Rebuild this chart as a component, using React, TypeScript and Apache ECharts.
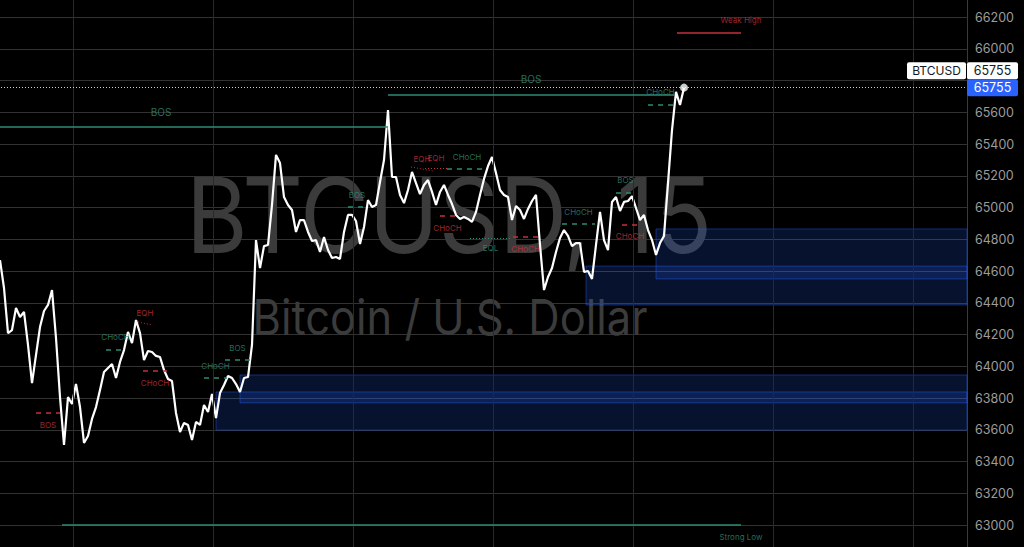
import React, { useEffect, useRef } from "react";
import * as echarts from "echarts";

const symbol = "BTCUSD";
const description = "Bitcoin / U.S. Dollar";
const resolution = "15";

// 15-minute closes, oldest first
const closes: number[] = [
  64669, 64493, 64209, 64228, 64367, 64310, 64342, 64134, 63894, 64071,
  64247, 64348, 64386, 64480, 64178, 63806, 63504, 63806, 63762, 63888,
  63743, 63517, 63561, 63668, 63743, 63850, 63964, 63989, 64014, 63926,
  64027, 64102, 64216, 64146, 64291, 64209, 64039, 64096, 64090, 64065,
  64058, 63976, 63920, 63907, 63706, 63586, 63643, 63630, 63535, 63649,
  63630, 63756, 63712, 63825, 63674, 63831, 63882, 63939, 63926, 63888,
  63838, 63926, 63932, 64134, 64795, 64619, 64757, 64764, 65016, 65331,
  65280, 65066, 65016, 64984, 64846, 64921, 64921, 64846, 64789, 64795,
  64720, 64814, 64732, 64682, 64688, 64676, 64846, 64953, 64953, 64915,
  64770, 64877, 65047, 65003, 65016, 65161, 65299, 65614, 65192, 65192,
  65079, 65028, 65110, 65224, 65154, 65085, 65142, 65173, 65098, 65016,
  65098, 65142, 65079, 65022, 64953, 64928, 64940, 64928, 64909, 64972,
  65079, 65180, 65261, 65318, 65217, 65110, 65079, 65066, 64921, 65009,
  64984, 64928, 64991, 65041, 65079, 64764, 64480, 64562, 64619, 64720,
  64808, 64858, 64821, 64757, 64776, 64776, 64594, 64600, 64550, 64764,
  64972, 64795, 64732, 65035, 65066, 64978, 65035, 65041, 65072, 64997,
  64921, 64953, 64858, 64795, 64701, 64776, 64821, 65154, 65488, 65728,
  65646, 65755,
];

// bar positions of the vertical time divisions
const timeDivisions = [18.25, 53.25, 88.25, 123.25, 158.25, 193.25, 228.25];

// price scale
const priceMin = 62800;
const priceMax = 66400;
const priceStep = 200;
const firstBar = -20;
const lastBar = 241.75;

// swing structure breaks
const swingBreaks = [
  { from: -16.5, to: 97, price: 65507, text: "BOS", bias: "bull" },
  { from: 97, to: 168.5, price: 65712, text: "BOS", bias: "bull" },
];

// internal structure breaks
const internalBreaks = [
  { from: 9, to: 15, price: 63707, text: "BOS", bias: "bear" },
  { from: 26.5, to: 31.25, price: 64107, text: "CHoCH", bias: "bull" },
  { from: 35.75, to: 41.75, price: 63972, text: "CHoCH", bias: "bear" },
  { from: 51, to: 56.75, price: 63928, text: "CHoCH", bias: "bull" },
  { from: 56.25, to: 62.5, price: 64041, text: "BOS", bias: "bull" },
  { from: 87, to: 91.5, price: 65005, text: "BOS", bias: "bull" },
  { from: 110, to: 113.75, price: 64946, text: "CHoCH", bias: "bear" },
  { from: 111.75, to: 121.75, price: 65243, text: "CHoCH", bias: "bull" },
  { from: 128.25, to: 134.5, price: 64816, text: "CHoCH", bias: "bear" },
  { from: 140.5, to: 148.75, price: 64896, text: "CHoCH", bias: "bull" },
  { from: 154, to: 158.75, price: 65096, text: "BOS", bias: "bull" },
  { from: 155.5, to: 159.5, price: 64894, text: "CHoCH", bias: "bear" },
  { from: 162, to: 168.25, price: 65650, text: "CHoCH", bias: "bull" },
];

// equal highs / equal lows
const equalLevels = [
  { from: 34.5, to: 38, p1: 64279, p2: 64260, text: "EQH" },
  { from: 102.75, to: 108.25, p1: 65255, p2: 65230, text: "EQH" },
  { from: 106.25, to: 111.75, p1: 65250, p2: 65250, text: "EQH" },
  { from: 117.5, to: 127.75, p1: 64808, p2: 64808, text: "EQL" },
];

// trailing swing extremes
const trailingExtremes = [
  { from: 169.25, to: 185.25, price: 66102, text: "Weak High", bias: "bear" },
  { from: 15.5, to: 185.25, price: 63003, text: "Strong Low", bias: "bull" },
];

// order blocks, extended to the right edge
const orderBlocks = [
  { from: 54, top: 63838, bottom: 63598 },
  { from: 60, top: 63945, bottom: 63769 },
  { from: 146.5, top: 64631, bottom: 64386 },
  { from: 164, top: 64865, bottom: 64550 },
];

const FONT = "Inter, 'Noto Sans', sans-serif";
const TEAL = "#2e8b74";
const RED = "#c4303a";
const colorOf = (bias: string) => (bias === "bull" ? TEAL : RED);

// the canvas is a little larger than the window so that the first bars and the
// outer price ticks sit just outside the visible area
const OFFSET_X = 80;
const OFFSET_Y = 15;

export default function App() {
  const ref = useRef<HTMLDivElement>(null);

  useEffect(() => {
    const el = ref.current;
    if (!el) return;
    const chart = echarts.init(el, undefined, { renderer: "svg" });

    const points = closes.map((c, i) => [i, c]);
    const lastIndex = closes.length - 1;
    const last = closes[lastIndex];

    const seg = (
      x1: number, y1: number, x2: number, y2: number,
      color: string, type: any, width: number
    ) => {
      const lineStyle = { color, type, width };
      return [
        { coord: [x1, y1], lineStyle },
        { coord: [x2, y2], lineStyle },
      ];
    };

    const structureLines: any[] = [
      ...swingBreaks.map((s) => seg(s.from, s.price, s.to, s.price, colorOf(s.bias), "solid", 1.5)),
      ...trailingExtremes.map((t) => seg(t.from, t.price, t.to, t.price, colorOf(t.bias), "solid", 1.5)),
      ...internalBreaks.map((s) => seg(s.from, s.price, s.to, s.price, colorOf(s.bias), [5, 5], 1.5)),
      ...equalLevels.map((e) =>
        seg(e.from, e.p1, e.to, e.p2, e.text === "EQH" ? RED : TEAL, [1, 2], 1)
      ),
    ];

    const labels: any[] = [];
    const addLabel = (x: number, y: number, text: string, color: string, dy: number, size: number) =>
      labels.push({ value: [x, y], label: { formatter: text, color, offset: [0, dy], fontSize: size } });

    swingBreaks.forEach((s) =>
      addLabel((s.from + s.to) / 2, s.price, s.text, colorOf(s.bias), s.bias === "bull" ? -15 : 15, 10)
    );
    internalBreaks.forEach((s) =>
      addLabel((s.from + s.to) / 2, s.price, s.text, colorOf(s.bias), s.bias === "bull" ? -12 : 12, 8)
    );
    equalLevels.forEach((e) => {
      const high = e.text === "EQH";
      addLabel((e.from + e.to) / 2, (e.p1 + e.p2) / 2, e.text, high ? RED : TEAL, high ? -10 : 10, 8);
    });
    trailingExtremes.forEach((t) => {
      const high = t.text.includes("High");
      addLabel(t.to, t.price, t.text, colorOf(t.bias), high ? -12.5 : 12.5, 8);
    });

    const ghost = {
      type: "line",
      data: points,
      showSymbol: false,
      silent: true,
      lineStyle: { opacity: 0 },
    };

    chart.setOption({
      backgroundColor: "#000000",
      animation: false,
      grid: {
        left: 0,
        right: 57,
        top: OFFSET_Y - 14.75,
        height: 571.5,
        containLabel: false,
        outerBoundsMode: "none",
      },
      xAxis: { type: "value", min: firstBar, max: lastBar, show: false },
      yAxis: {
        type: "value",
        position: "right",
        min: priceMin,
        max: priceMax,
        interval: priceStep,
        axisLine: { show: true, onZero: false, lineStyle: { color: "#3a3a3a" } },
        axisTick: { show: false },
        axisLabel: {
          color: "#9c9c9c",
          fontSize: 12.5,
          fontFamily: FONT,
          margin: 8,
          showMinLabel: false,
          showMaxLabel: false,
          // the last-price tag covers the tick that sits next to it;
          // the outer ticks lie beyond the window
          formatter: (v: number) =>
            Math.abs(v - last) < 100 || v <= priceMin || v >= priceMax ? "" : String(v),
        },
        splitLine: { show: true, lineStyle: { color: "#323232", width: 1 } },
      },
      series: [
        {
          ...ghost,
          z: 1,
          markLine: {
            silent: true,
            symbol: ["none", "none"],
            label: { show: false },
            lineStyle: { color: "#292929", width: 1, type: "solid" },
            data: timeDivisions.map((x) => ({ xAxis: x })),
          },
        },
        {
          ...ghost,
          z: 2,
          markArea: {
            silent: true,
            itemStyle: {
              color: "rgba(41, 98, 255, 0.18)",
              borderColor: "rgba(41, 98, 255, 0.42)",
              borderWidth: 1,
            },
            data: orderBlocks.map((b) => [
              { coord: [b.from, b.top] },
              { coord: [lastBar, b.bottom] },
            ]),
          },
        },
        {
          ...ghost,
          z: 3,
          markLine: {
            silent: true,
            symbol: ["none", "none"],
            label: { show: false },
            data: structureLines,
          },
        },
        {
          type: "line",
          name: symbol,
          data: points,
          showSymbol: false,
          z: 4,
          lineStyle: { color: "#ffffff", width: 2.2 },
          markLine: {
            silent: true,
            symbol: ["none", "none"],
            label: { show: false },
            lineStyle: { color: "#cfcfcf", type: [1, 2], width: 1 },
            data: [{ yAxis: last }],
          },
        },
        {
          type: "scatter",
          z: 5,
          silent: true,
          symbolSize: 0,
          data: labels,
          label: { show: true, position: "inside", fontFamily: FONT },
        },
        {
          type: "scatter",
          z: 6,
          silent: true,
          symbol: "circle",
          symbolSize: 8,
          itemStyle: { color: "#ffffff" },
          data: [[lastIndex, last]],
        },
      ],
    });

    const yLast = chart.convertToPixel({ yAxisIndex: 0 }, last) as number;
    const axisX = chart.convertToPixel({ xAxisIndex: 0 }, lastBar) as number;
    const tagW = 51;
    const tagH = 17;
    const txt = (x: number, y: number, text: string, fill: string, size: number, z: number, scaleX = 1) => ({
      type: "text",
      x,
      y,
      scaleX,
      z,
      style: {
        text,
        fill,
        fontSize: size,
        fontFamily: FONT,
        align: "center",
        verticalAlign: "middle",
        textAlign: "center",
        textVerticalAlign: "middle",
      },
    });

    chart.setOption({
      graphic: [
        txt(OFFSET_X + 449, OFFSET_Y + 215, `${symbol}, ${resolution}`, "#3b3b3b", 104, 0, 0.905),
        txt(OFFSET_X + 450, OFFSET_Y + 317, description, "#3b3b3b", 49, 0, 0.887),
        {
          type: "rect",
          z: 100,
          shape: { x: axisX - 60, y: yLast - 8.5 - tagH, width: 59, height: tagH, r: 2 },
          style: { fill: "#ffffff" },
        },
        {
          type: "rect",
          z: 100,
          shape: { x: axisX, y: yLast - 8.5 - tagH, width: tagW, height: tagH, r: 2 },
          style: { fill: "#ffffff" },
        },
        {
          type: "rect",
          z: 100,
          shape: { x: axisX, y: yLast - 8.5, width: tagW, height: tagH, r: 2 },
          style: { fill: "#2962ff" },
        },
        txt(axisX - 30.5, yLast - 8.5 - tagH / 2, symbol, "#131722", 12, 101),
        txt(axisX + tagW / 2, yLast - 8.5 - tagH / 2, String(last), "#131722", 12.5, 101),
        txt(axisX + tagW / 2, yLast, String(last), "#ffffff", 12.5, 101),
      ],
    });

    return () => chart.dispose();
  }, []);

  return (
    <div
      ref={ref}
      style={{
        position: "fixed",
        left: -OFFSET_X,
        top: -OFFSET_Y,
        width: 1024 + OFFSET_X,
        height: 547 + OFFSET_Y + 12,
        background: "#000",
      }}
    />
  );
}
